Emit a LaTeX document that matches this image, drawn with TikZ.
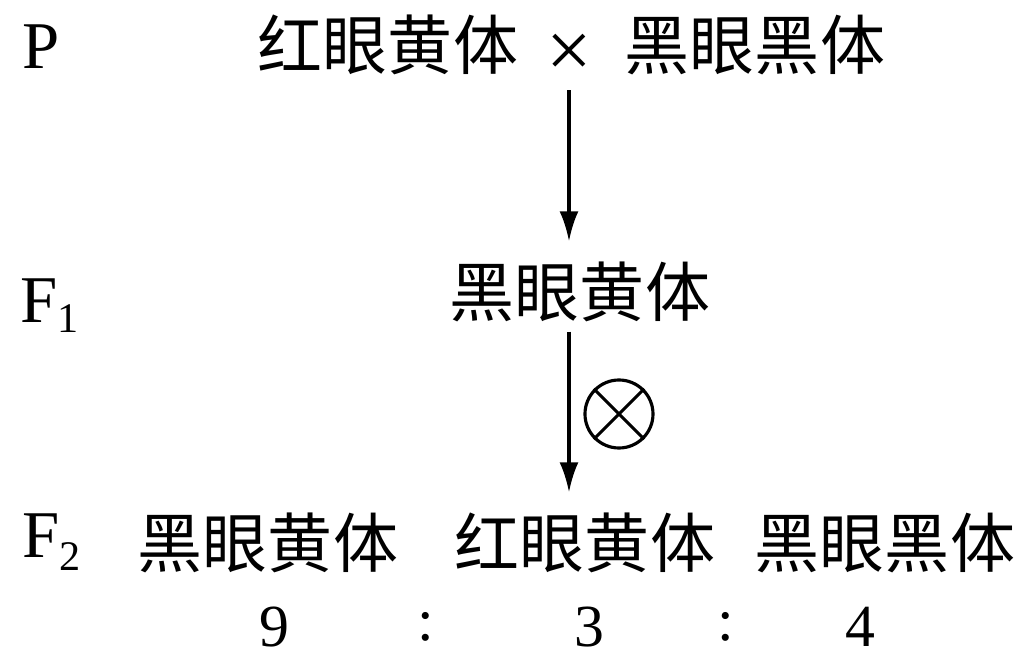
\documentclass[tikz,border=0pt]{standalone}
\usepackage{fontspec}
\setmainfont{Liberation Serif}
\newfontfamily\cjk{Noto Sans CJK SC}
\usetikzlibrary{arrows.meta,positioning}

\begin{document}
\begin{tikzpicture}[
  >={Latex[length=3mm,width=1.9mm]},
  gen/.style={font=\fontsize{19}{20}\selectfont,inner sep=0pt,anchor=base west},
  pheno/.style={font=\cjk\fontsize{18.5}{20}\selectfont,inner sep=0pt},
  ratio/.style={font=\fontsize{17}{18}\selectfont,inner sep=0pt},
  link/.style={->,line width=0.9pt}
]
\useasboundingbox (0,0) rectangle (10.35,-6.64);

% Generation labels.
\node[gen] (genP) at (0.22,-0.68) {P};
\node[gen] (genF1) at (0.20,-3.22)
  {F\raisebox{-3pt}{\fontsize{12}{12}\selectfont 1}};
\node[gen] (genF2) at (0.22,-5.58)
  {F\raisebox{-3.5pt}{\fontsize{12}{12}\selectfont 2}};

% Parents.
\node[pheno] (pRed) at (3.88,-0.45) {红眼黄体};
\node[font=\fontsize{23}{23}\selectfont,inner sep=0pt] (cross) at (5.69,-0.56) {×};
\node[pheno] (pBlack) at (7.55,-0.45) {黑眼黑体};

% F1 and selfing.
\node[pheno] (f1) at (5.80,-2.92) {黑眼黄体};
\draw[link,shorten <=0.12cm,shorten >=0.2cm] (cross.south) -- (cross |- f1.north);
\node[draw,circle,line width=0.9pt,minimum size=0.68cm,inner sep=0pt] (self) at (6.19,-4.14) {};
\draw[line width=0.9pt] (self.45) -- (self.225) (self.135) -- (self.315);

% F2.
\node[pheno] (f2a) at (2.68,-5.43) {黑眼黄体};
\node[pheno] (f2b) at (5.85,-5.43) {红眼黄体};
\node[pheno] (f2c) at (8.85,-5.43) {黑眼黑体};
\draw[link,shorten <=0.09cm,shorten >=0.2cm] (cross |- f1.south) -- (cross |- f2b.north);

\foreach \x/\v [count=\i] in {2.74/9,4.26/:,5.89/3,7.26/:,8.60/4}
  \node[ratio] (ratio\i) at (\x,-6.27) {\v};
\end{tikzpicture}
\end{document}
